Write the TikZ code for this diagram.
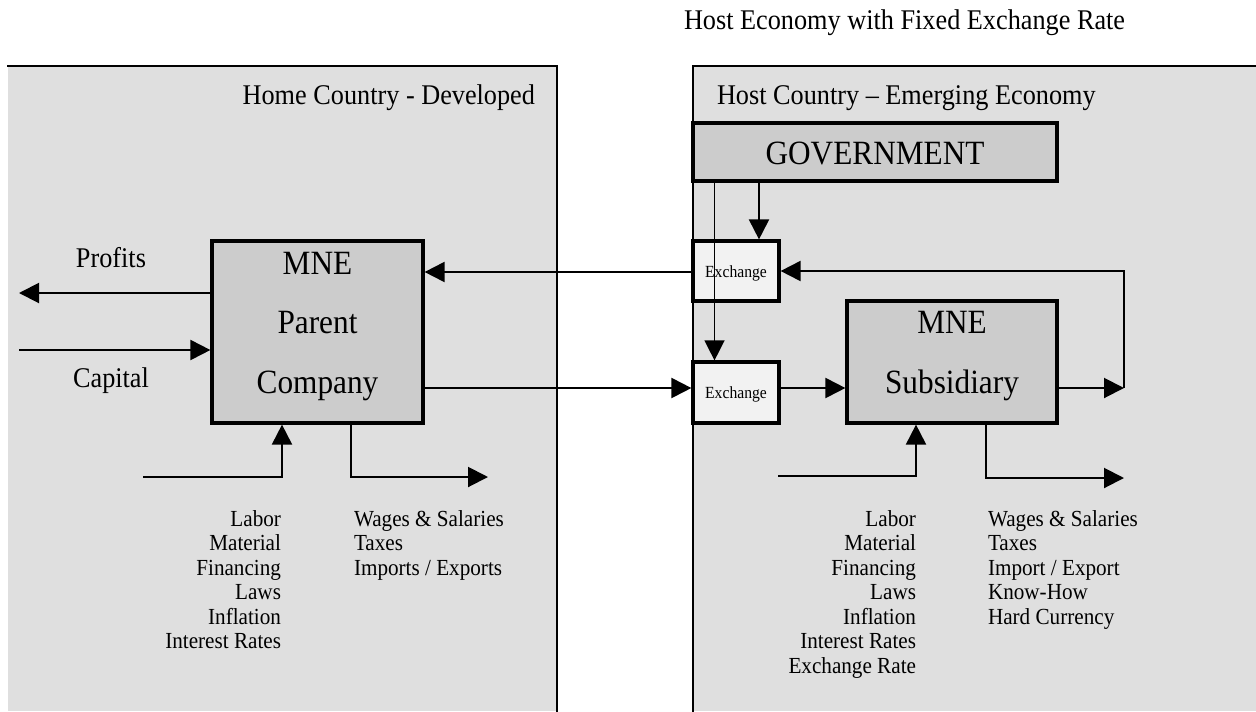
\documentclass[tikz,border=0pt]{standalone}
\usepackage{fontspec}
\setmainfont{Liberation Serif}[FakeStretch=0.92]
\usetikzlibrary{arrows.meta}
\definecolor{panelgray}{HTML}{DFDFDF}
\definecolor{boxgray}{HTML}{CCCCCC}
\definecolor{exgray}{HTML}{F2F2F2}
\tikzset{
  panelline/.style={line width=2pt, line cap=rect},
  mnebox/.style={draw, line width=2.4pt, fill=boxgray, inner sep=0pt},
  exbox/.style={draw, line width=2.4pt, fill=exgray, inner sep=0pt},
  flow/.style={line width=1.5pt, -{Triangle[length=15pt,width=15pt]}},
  thinflow/.style={line width=1pt, -{Triangle[length=15pt,width=15pt]}},
  txt/.style={inner sep=0pt, outer sep=0pt},
  paneltxt/.style={txt, font=\fontsize{21.4pt}{25pt}\selectfont},
  bigtxt/.style={txt, font=\fontsize{25.5pt}{30pt}\selectfont},
  sidetxt/.style={txt, font=\fontsize{21.4pt}{25pt}\selectfont},
  extxt/.style={txt, font=\fontsize{12.75pt}{15pt}\selectfont},
  listtxt/.style={txt, font=\fontsize{17.25pt}{20pt}\selectfont},
}
\begin{document}
\begin{tikzpicture}[x=0.75pt, y=-0.75pt]
\useasboundingbox (0,0) rectangle (1256,711);
% panels
\fill[panelgray] (8,66) rectangle (557,711);
\draw[panelline] (8,66) -- (557,66) -- (557,712);
\fill[panelgray] (693,66) rectangle (1256,711);
\draw[panelline] (1257,66) -- (693,66) -- (693,712);
% title texts
\node[paneltxt, anchor=base west] (title) at (684,29) {Host Economy with Fixed Exchange Rate};
\node[paneltxt, anchor=base east] (home) at (535,104) {Home Country - Developed};
\node[paneltxt, anchor=base west] (host) at (717,104) {Host Country -- Emerging Economy};
% boxes
\node[mnebox, minimum width=158.25pt, minimum height=136.5pt] (par) at (317.5,332) {};
\node[mnebox, minimum width=157.5pt, minimum height=91.5pt] (sub) at (952,362) {};
\node[mnebox, minimum width=273pt, minimum height=43.5pt] (gov) at (875,152) {};
\node[exbox, minimum width=64.5pt, minimum height=45pt] (ex1) at (736,271) {};
\node[exbox, minimum width=64.5pt, minimum height=45.75pt] (ex2) at (736,392.5) {};
% box texts
\node[bigtxt, anchor=base] (parA) at (317.5,274) {MNE};
\node[bigtxt, anchor=base] (parB) at (317.5,333.5) {Parent};
\node[bigtxt, anchor=base] (parC) at (317.5,393) {Company};
\node[bigtxt, anchor=base] (subA) at (952,333) {MNE};
\node[bigtxt, anchor=base] (subB) at (952,393) {Subsidiary};
\node[bigtxt, anchor=base] (govT) at (875,164) {GOVERNMENT};
\node[extxt, anchor=base] (ex1T) at (736,277) {Exchange};
\node[extxt, anchor=base] (ex2T) at (736,398) {Exchange};
% side labels
\node[sidetxt, anchor=base] (profits) at (111,267) {Profits};
\node[sidetxt, anchor=base] (capital) at (111,387) {Capital};
% helper coordinates
\coordinate (xg1) at (759,0);
\coordinate (xg2) at (714.5,0);
\coordinate (y272) at (0,272);
\coordinate (y293) at (0,293);
\coordinate (y350) at (0,350);
\coordinate (y388) at (0,388);
\coordinate (profEnd) at (19,293);
\coordinate (capStart) at (19,350);
\coordinate (loopR) at (1124,388);
\coordinate (inL) at (143,477);
\coordinate (xinL) at (282,0);
\coordinate (xoutL) at (351,0);
\coordinate (outL) at (488,477);
\coordinate (inR) at (778,476);
\coordinate (xinR) at (916,0);
\coordinate (xoutR) at (986,0);
\coordinate (outR) at (1124,478);
% government arrows
\draw[flow] (gov.south -| xg1) -- (ex1.north -| xg1);
\draw[thinflow] (gov.south -| xg2) -- (ex2.north -| xg2);
% horizontal flows
\draw[flow] (ex1.west |- y272) -- (par.east |- y272);
\draw[flow] (par.east |- y388) -- (ex2.west |- y388);
\draw[flow] (ex2.east |- y388) -- (sub.west |- y388);
\draw[flow] (sub.east |- y388) -- (loopR);
\draw[flow] (loopR) |- (ex1.east);
\draw[flow] (par.west |- y293) -- (profEnd);
\draw[flow] (capStart) -- (par.west |- y350);
% bottom flows
\draw[flow] (inL) -| (par.south -| xinL);
\draw[flow] (par.south -| xoutL) |- (outL);
\draw[flow] (inR) -| (sub.south -| xinR);
\draw[flow] (sub.south -| xoutR) |- (outR);
% lists
\foreach \t [count=\i] in {Labor, Material, Financing, Laws, Inflation, Interest Rates}
  \node[listtxt, anchor=base east] (linL\i) at (281,{526+24.5*(\i-1)}) {\t};
\foreach \t [count=\i] in {Wages \& Salaries, Taxes, Imports / Exports}
  \node[listtxt, anchor=base west] (loutL\i) at (354,{526+24.5*(\i-1)}) {\t};
\foreach \t [count=\i] in {Labor, Material, Financing, Laws, Inflation, Interest Rates, Exchange Rate}
  \node[listtxt, anchor=base east] (linR\i) at (916,{526+24.5*(\i-1)}) {\t};
\foreach \t [count=\i] in {Wages \& Salaries, Taxes, Import / Export, Know-How, Hard Currency}
  \node[listtxt, anchor=base west] (loutR\i) at (988,{526+24.5*(\i-1)}) {\t};
\end{tikzpicture}
\end{document}
